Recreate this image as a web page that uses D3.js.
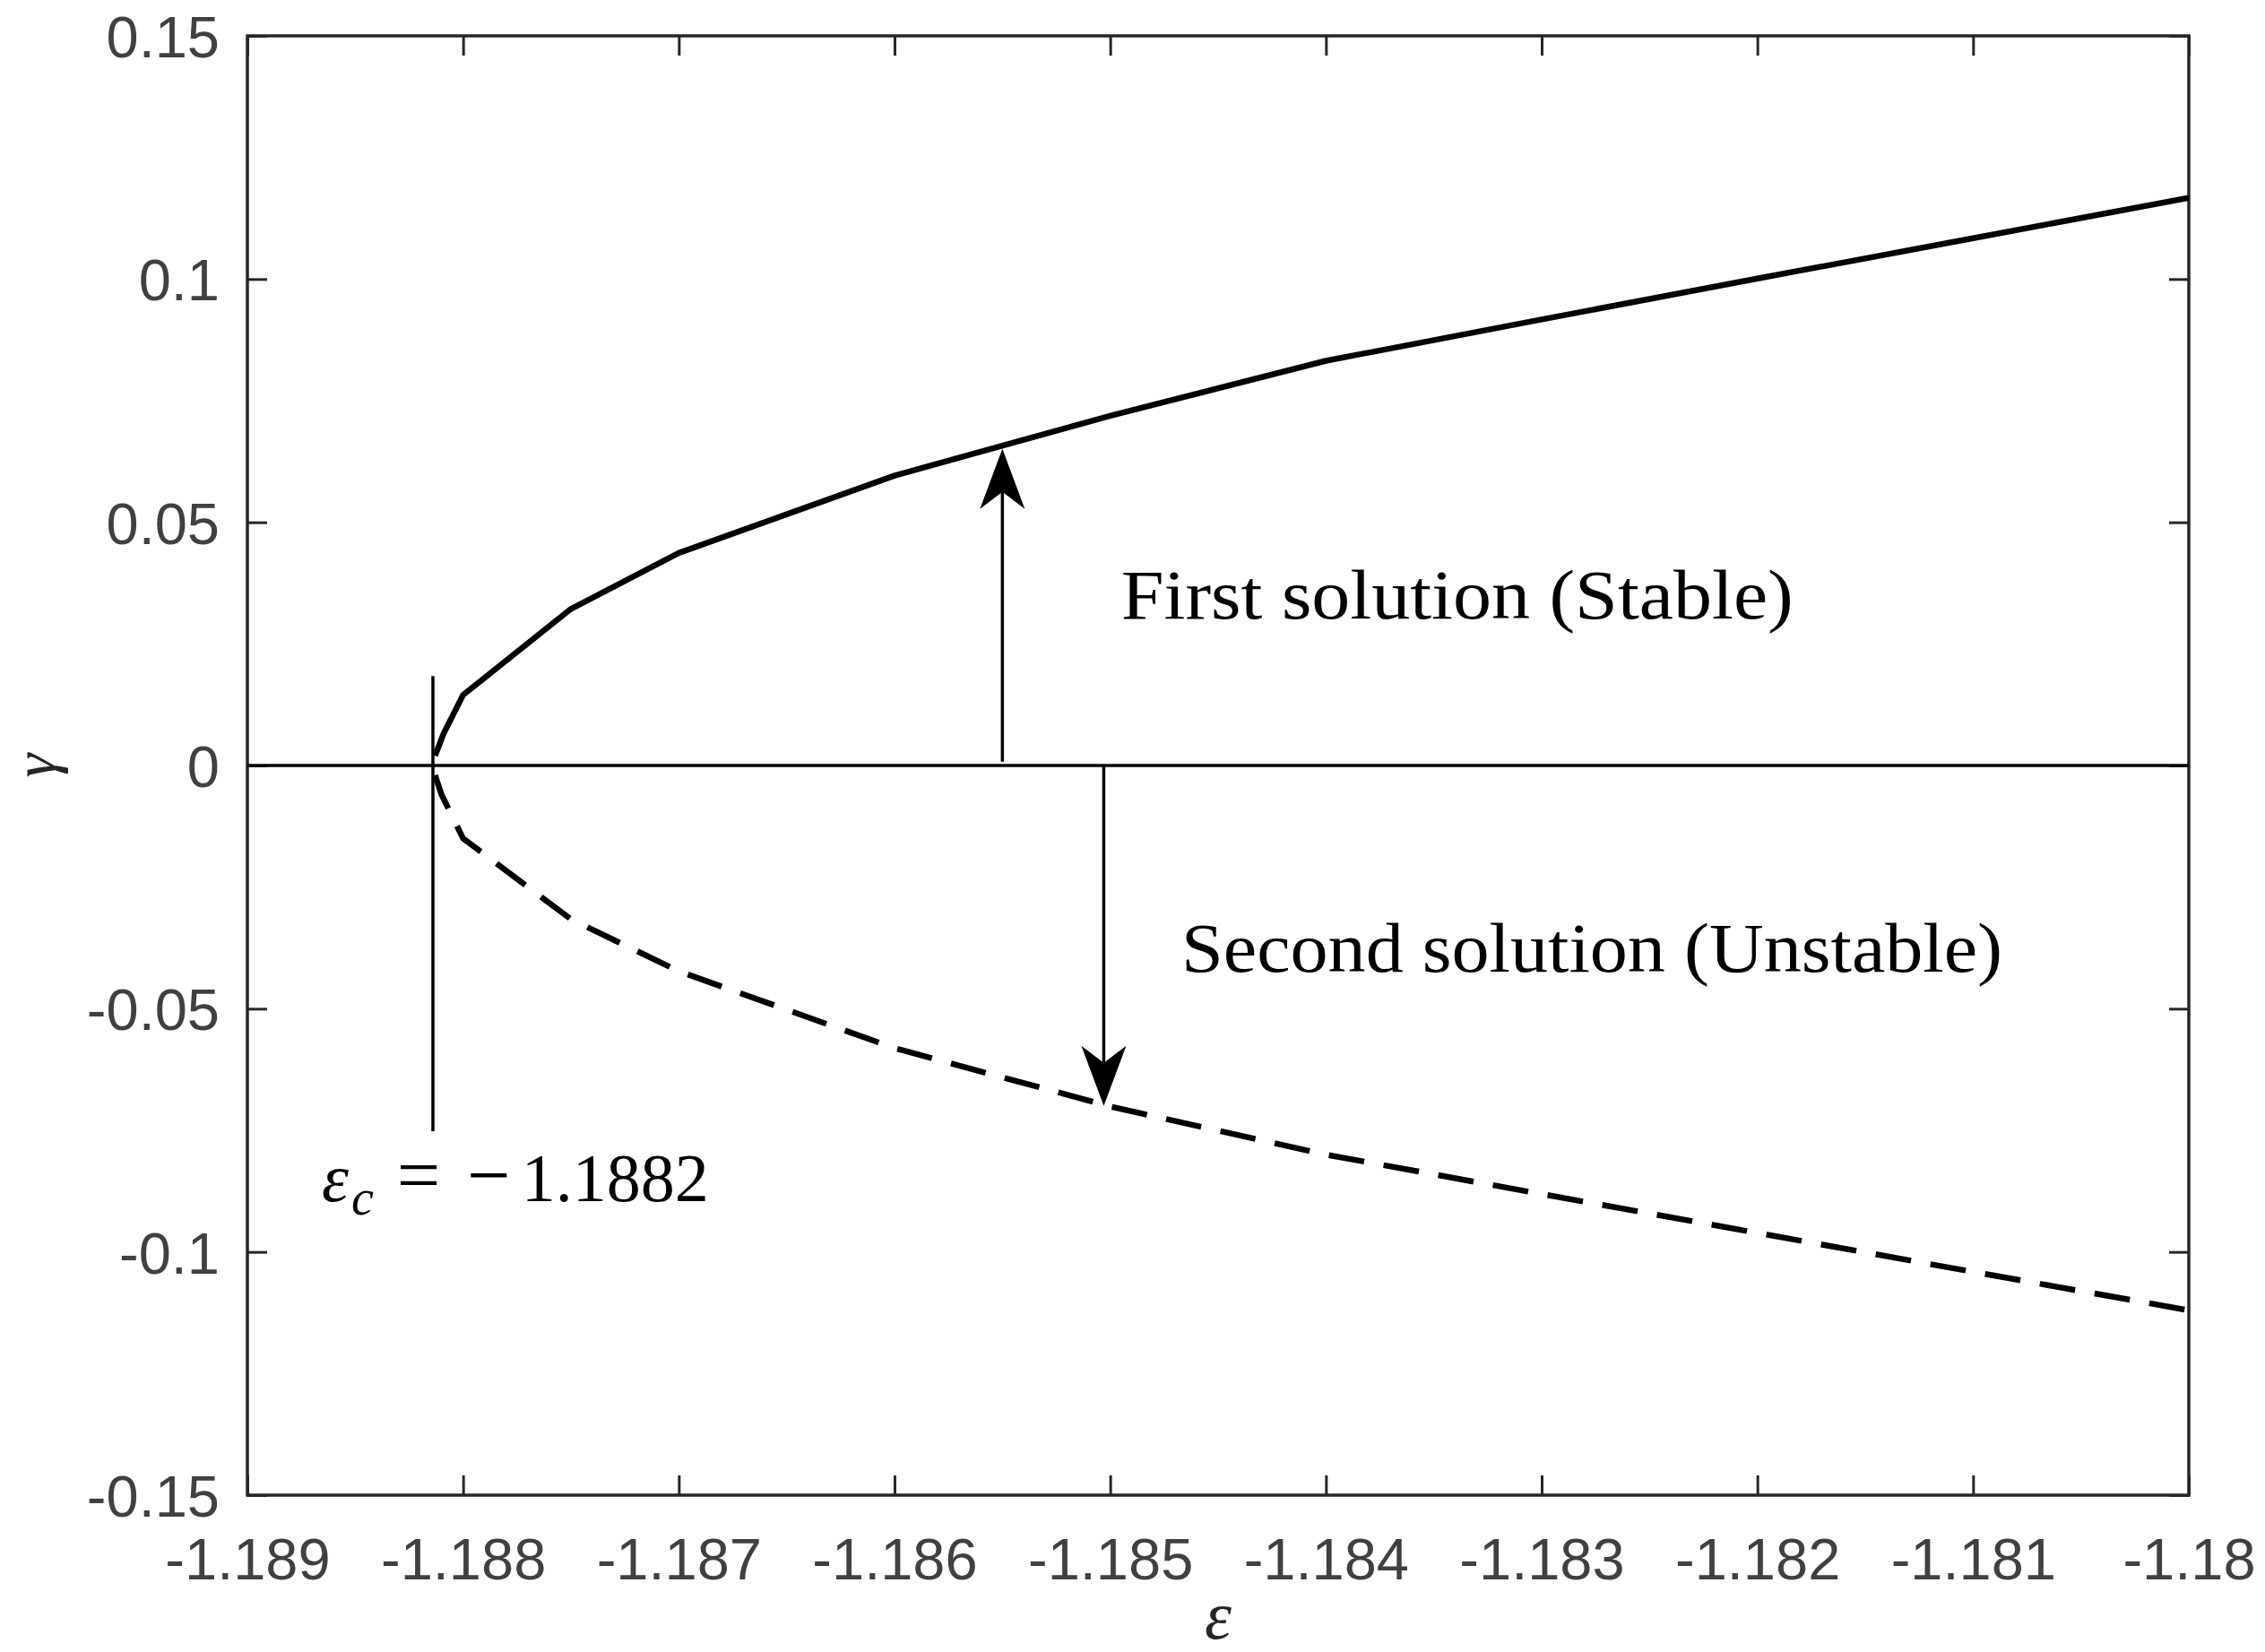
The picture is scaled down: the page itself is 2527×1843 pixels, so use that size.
<!DOCTYPE html>
<html lang="en">
<head>
<meta charset="utf-8">
<title>bifurcation gamma vs epsilon</title>
<script src="https://d3js.org/d3.v7.min.js"></script>
<style>
  body { margin: 0; background: #fff; }
  svg { display: block; background: #fff; }
  .tick text { font-family: "Liberation Sans", Arial, sans-serif; font-size: 65px; fill: #404040; }
  .tick line { stroke: #262626; stroke-width: 3; }
  .note { font-family: "Liberation Serif", "Times New Roman", serif; fill: #000; }
</style>
</head>
<body>
<svg id="chart" width="2527" height="1843"></svg>
<script>
// ticks
const xTicks = [-1.189, -1.188, -1.187, -1.186, -1.185, -1.184, -1.183, -1.182, -1.181, -1.18];
const xTickLabels = ["-1.189", "-1.188", "-1.187", "-1.186", "-1.185", "-1.184", "-1.183", "-1.182", "-1.181", "-1.18"];
const yTicks = [-0.15, -0.1, -0.05, 0, 0.05, 0.1, 0.15];
const yTickLabels = ["-0.15", "-0.1", "-0.05", "0", "0.05", "0.1", "0.15"];

// first solution (stable), solid
const stableEps   = [-1.18813, -1.18809, -1.188, -1.1875, -1.187, -1.186, -1.185, -1.184, -1.183, -1.182, -1.181, -1.18];
const stableGamma = [0.0020, 0.0066, 0.0145, 0.0322, 0.0437, 0.0596, 0.0719, 0.0832, 0.0917, 0.1001, 0.1084, 0.1167];

// second solution (unstable), dashed
const unstableEps   = [-1.18813, -1.1881, -1.188, -1.1875, -1.187, -1.186, -1.185, -1.184, -1.183, -1.182, -1.181, -1.18];
const unstableGamma = [-0.0020, -0.0060, -0.0150, -0.0316, -0.0423, -0.0581, -0.0701, -0.0800, -0.0881, -0.0961, -0.1041, -0.1120];

// critical value marker
const epsCritical = -1.18814;
const critLineGamma = [0.0184, -0.0752];

// arrows: x, from gamma, to gamma
const arrowEps = [-1.1855, -1.18503];
const arrowFrom = [0.0008, 0.0];
const arrowTo = [0.0651, -0.0700];

const notes = ["First solution (Stable)", "Second solution (Unstable)"];
const noteEps = [-1.18495, -1.18467];
const noteGamma = [0.0302, -0.0423];

const svg = d3.select("#chart");
const margin = {top: 40, right: 85, bottom: 175, left: 276};
const W = 2527, H = 1843;

const x = d3.scaleLinear().domain([-1.189, -1.18]).range([margin.left, W - margin.right]);
const y = d3.scaleLinear().domain([-0.15, 0.15]).range([H - margin.bottom, margin.top]);

svg.append("clipPath").attr("id", "clip")
   .append("rect")
   .attr("x", x(-1.189)).attr("y", y(0.15))
   .attr("width", x(-1.18) - x(-1.189)).attr("height", y(-0.15) - y(0.15));

// axes, ticks pointing in
const tick = 22;
const bottomAxis = svg.append("g")
   .attr("transform", "translate(0," + y(-0.15) + ")")
   .call(d3.axisBottom(x).tickValues(xTicks).tickSize(-tick).tickFormat((d, i) => xTickLabels[i]));
bottomAxis.selectAll("text").attr("y", 94).attr("dy", 0);

svg.append("g")
   .attr("transform", "translate(0," + y(0.15) + ")")
   .call(d3.axisTop(x).tickValues(xTicks).tickSize(-tick).tickFormat(""));

const leftAxis = svg.append("g")
   .attr("transform", "translate(" + x(-1.189) + ",0)")
   .call(d3.axisLeft(y).tickValues(yTicks).tickSize(-tick).tickFormat((d, i) => yTickLabels[i]));
leftAxis.selectAll("text").attr("x", -31).attr("dy", "0.36em");

svg.append("g")
   .attr("transform", "translate(" + x(-1.18) + ",0)")
   .call(d3.axisRight(y).tickValues(yTicks).tickSize(-tick).tickFormat(""));

svg.selectAll(".domain").remove();

// axes box
svg.append("rect")
   .attr("x", x(-1.189)).attr("y", y(0.15))
   .attr("width", x(-1.18) - x(-1.189)).attr("height", y(-0.15) - y(0.15))
   .attr("fill", "none").attr("stroke", "#262626").attr("stroke-width", 3.5);

// zero line
svg.append("line")
   .attr("x1", x(-1.189)).attr("x2", x(-1.18))
   .attr("y1", y(0)).attr("y2", y(0))
   .attr("stroke", "#000").attr("stroke-width", 3.5);

// curves
const line = d3.line().x(d => x(d[0])).y(d => y(d[1]));
const plot = svg.append("g").attr("clip-path", "url(#clip)");

plot.append("path")
   .datum(stableEps.map((e, i) => [e, stableGamma[i]]))
   .attr("d", line)
   .attr("fill", "none").attr("stroke", "#000").attr("stroke-width", 6.5)
   .attr("stroke-linejoin", "round");

plot.append("path")
   .datum(unstableEps.map((e, i) => [e, unstableGamma[i]]))
   .attr("d", line)
   .attr("fill", "none").attr("stroke", "#000").attr("stroke-width", 6.5)
   .attr("stroke-dasharray", "40,22");

// critical epsilon line
svg.append("line")
   .attr("x1", x(epsCritical)).attr("x2", x(epsCritical))
   .attr("y1", y(critLineGamma[0])).attr("y2", y(critLineGamma[1]))
   .attr("stroke", "#000").attr("stroke-width", 3.5);

// arrows
const headLen = 67, headHalf = 25, notch = 48;
arrowEps.forEach((e, i) => {
  const ax = x(e), y0 = y(arrowFrom[i]), y1 = y(arrowTo[i]);
  const dir = y1 < y0 ? 1 : -1; // 1 = pointing up
  svg.append("line")
     .attr("x1", ax).attr("x2", ax)
     .attr("y1", y0).attr("y2", y1 + dir * notch)
     .attr("stroke", "#000").attr("stroke-width", 3.5);
  svg.append("path")
     .attr("d", "M" + ax + "," + y1 +
                " L" + (ax - headHalf) + "," + (y1 + dir * headLen) +
                " L" + ax + "," + (y1 + dir * notch) +
                " L" + (ax + headHalf) + "," + (y1 + dir * headLen) + " Z")
     .attr("fill", "#000");
});

// annotation texts
const noteWidth = [750, 916];
notes.forEach((t, i) => {
  svg.append("text")
     .attr("class", "note")
     .attr("x", x(noteEps[i])).attr("y", y(noteGamma[i]))
     .attr("font-size", 79)
     .attr("textLength", noteWidth[i])
     .attr("lengthAdjust", "spacingAndGlyphs")
     .text(t);
});

// epsilon_c label
const critLabel = svg.append("text")
   .attr("class", "note")
   .attr("x", x(-1.188655)).attr("y", y(-0.08957))
   .attr("font-size", 76);
critLabel.append("tspan").attr("font-style", "italic").text("\u03b5");
critLabel.append("tspan").attr("font-style", "italic").attr("font-size", 56).attr("dy", 15).attr("dx", 3).text("c");
critLabel.append("tspan").attr("dy", -15).attr("dx", 26).attr("font-size", 86).text("=");
critLabel.append("tspan").attr("dx", 30).attr("font-size", 86).text("\u2212");
critLabel.append("tspan").attr("dx", 12).text("1.1882");

// axis labels
svg.append("text")
   .attr("transform", "translate(62," + y(0) + ") rotate(-90)")
   .attr("text-anchor", "middle")
   .attr("font-family", "'Liberation Serif', serif")
   .attr("font-style", "italic")
   .attr("font-size", 68)
   .attr("fill", "#262626")
   .text("\u03b3");

svg.append("text")
   .attr("x", x(-1.1845)).attr("y", 1828)
   .attr("text-anchor", "middle")
   .attr("font-family", "'Liberation Serif', serif")
   .attr("font-style", "italic")
   .attr("font-size", 76)
   .attr("fill", "#262626")
   .text("\u03b5");
</script>
</body>
</html>
